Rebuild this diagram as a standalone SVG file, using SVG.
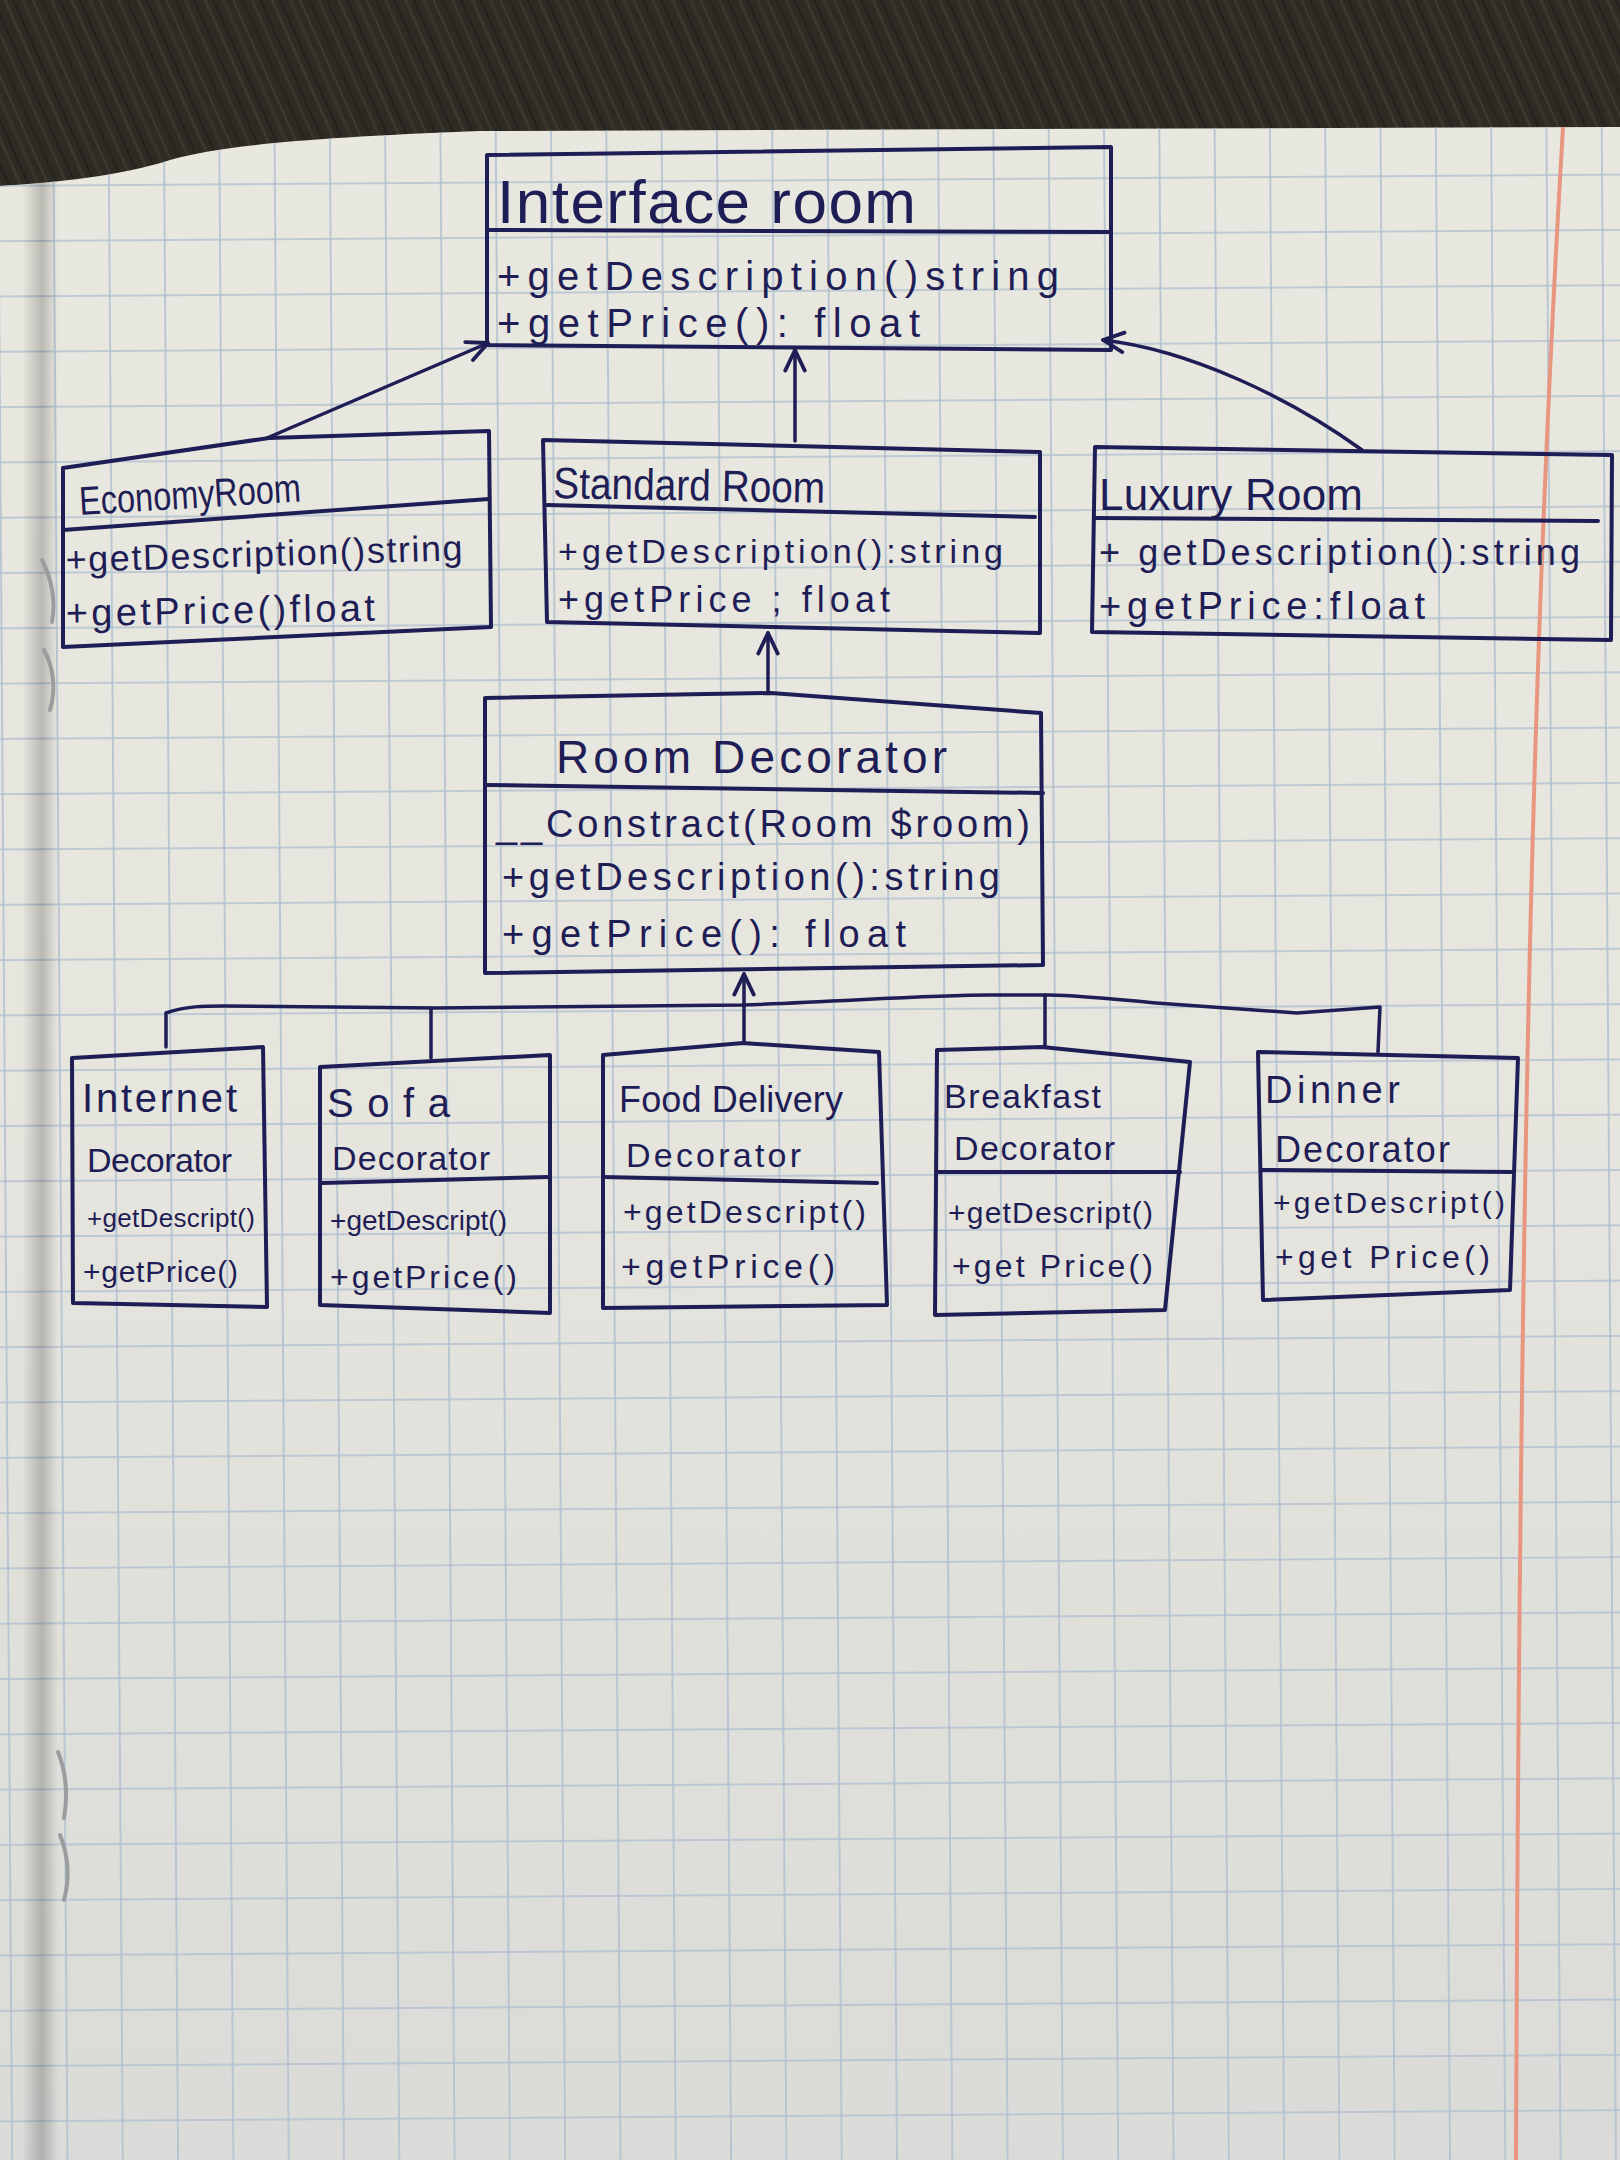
<svg xmlns="http://www.w3.org/2000/svg" width="1620" height="2160" viewBox="0 0 1620 2160">
  <defs>
    <style>
      .ink { fill: none; stroke: #1f1d55; stroke-width: 4; stroke-linejoin: round; stroke-linecap: round; }
      .wire { fill: none; stroke: #1f1d55; stroke-width: 3.5; stroke-linejoin: round; stroke-linecap: round; }
      .hand { fill: #1f1d55; font-family: "Liberation Sans", Arial, sans-serif; }
    </style>
    <!-- wood desk texture -->
    <pattern id="wood" patternUnits="userSpaceOnUse" width="61" height="600" patternTransform="rotate(-24)">
      <rect width="61" height="600" fill="#2e2a24"/>
      <rect x="3" width="3" height="600" fill="#48423a" opacity="0.55"/>
      <rect x="11" width="2" height="600" fill="#1e1b17" opacity="0.6"/>
      <rect x="19" width="4" height="600" fill="#3d382f" opacity="0.6"/>
      <rect x="29" width="2" height="600" fill="#524b40" opacity="0.45"/>
      <rect x="37" width="3" height="600" fill="#221f1a" opacity="0.55"/>
      <rect x="46" width="2.5" height="600" fill="#443e35" opacity="0.6"/>
      <rect x="54" width="2" height="600" fill="#1c1a16" opacity="0.5"/>
    </pattern>
    <!-- squared notebook ruling -->
    <pattern id="grid" patternUnits="userSpaceOnUse" x="162" y="19" width="55.3" height="55.3" patternTransform="rotate(-0.4)">
      <path d="M1,0 V55.3 M0,1 H55.3" fill="none" stroke="#afc0d0" stroke-width="1.6"/>
    </pattern>
    <linearGradient id="paperShade" x1="0" y1="0" x2="0" y2="1">
      <stop offset="0" stop-color="#e9e8e0"/>
      <stop offset="0.5" stop-color="#e6e5de"/>
      <stop offset="1" stop-color="#dadbd8"/>
    </linearGradient>
    <linearGradient id="fold" x1="0" y1="0" x2="1" y2="0">
      <stop offset="0" stop-color="#000" stop-opacity="0"/>
      <stop offset="0.55" stop-color="#000" stop-opacity="0.2"/>
      <stop offset="1" stop-color="#000" stop-opacity="0"/>
    </linearGradient>
    <clipPath id="paperClip">
      <path d="M0,186 C60,182 120,176 170,160 C220,146 300,138 480,131 L1620,127 L1620,2160 L0,2160 Z"/>
    </clipPath>
    <marker id="open" viewBox="0 0 24 24" refX="22" refY="12" markerWidth="26" markerHeight="26" markerUnits="userSpaceOnUse" orient="auto">
      <path d="M3,3 L22,12 L3,21" fill="none" stroke="#1f1d55" stroke-width="3.5" stroke-linecap="round" stroke-linejoin="round"/>
    </marker>
  </defs>

  <!-- desk and notebook page -->
  <rect width="1620" height="2160" fill="url(#wood)"/>
  <g clip-path="url(#paperClip)">
    <rect width="1620" height="2160" fill="url(#paperShade)"/>
    <rect width="1620" height="2160" fill="url(#grid)"/>
    <rect x="22" y="120" width="36" height="2040" fill="url(#fold)"/>
    <path d="M1563,127 C1535,600 1520,1100 1516,2160" fill="none" stroke="#e8967f" stroke-width="4"/>
  </g>

  <!-- binding staples -->
  <g fill="none" stroke="#9a9c9e" stroke-width="4" stroke-linecap="round">
    <path d="M42,560 C52,580 56,600 52,622"/>
    <path d="M44,650 C54,668 56,690 50,710"/>
    <path d="M58,1752 C66,1772 68,1795 64,1818"/>
    <path d="M60,1835 C68,1855 70,1878 64,1900"/>
  </g>

  <!-- connectors -->
  <g id="connectors">
    <path class="wire" d="M267,438 L488,343" marker-end="url(#open)"/>
    <path class="wire" d="M795,441 L795,350" marker-end="url(#open)"/>
    <path class="wire" d="M1362,450 C1290,398 1190,350 1103,340" marker-end="url(#open)"/>
    <path class="wire" d="M768,693 L768,633" marker-end="url(#open)"/>
    <path class="wire" d="M744,1006 L744,974" marker-end="url(#open)"/>
    <path class="wire" d="M166,1047 L166,1013 C185,1006 205,1006 225,1006 L435,1008 L742,1005 C850,1001 930,995 990,995 L1049,995 C1090,996 1120,1000 1156,1003 L1297,1013 L1380,1007 L1378,1052"/>
    <path class="wire" d="M431,1008 L431,1058"/>
    <path class="wire" d="M744,1006 L744,1043"/>
    <path class="wire" d="M1045,995 L1045,1047"/>
  </g>

  <!-- interface -->
  <g id="interface-room">
    <path class="ink" d="M487,155 L1111,147 L1111,350 L487,345 Z"/>
    <path class="ink" d="M487,230 L1111,232"/>
    <text class="hand" x="497" y="223" font-size="62" textLength="419">Interface room</text>
    <text class="hand" x="497" y="290" font-size="40" textLength="562">+getDescription()string</text>
    <text class="hand" x="497" y="337" font-size="40" textLength="423">+getPrice(): float</text>
  </g>

  <!-- concrete rooms -->
  <g id="economy-room">
    <path class="ink" d="M63,468 L269,438 L489,431 L491,627 L63,647 Z"/>
    <path class="ink" d="M63,530 L489,499"/>
    <text class="hand" x="80" y="515" font-size="40" textLength="222" lengthAdjust="spacingAndGlyphs" transform="rotate(-3.5 80 515)">EconomyRoom</text>
    <text class="hand" x="66" y="572" font-size="36" textLength="397" transform="rotate(-1.7 66 572)">+getDescription()string</text>
    <text class="hand" x="66" y="626" font-size="38" textLength="309" transform="rotate(-1 66 626)">+getPrice()float</text>
  </g>

  <g id="standard-room">
    <path class="ink" d="M543,440 L1040,452 L1040,633 L547,622 Z"/>
    <path class="ink" d="M547,505 L1035,517"/>
    <text class="hand" x="553" y="498" font-size="44" textLength="272" lengthAdjust="spacingAndGlyphs" transform="rotate(1 553 498)">Standard Room</text>
    <text class="hand" x="558" y="563" font-size="34" textLength="445">+getDescription():string</text>
    <text class="hand" x="558" y="612" font-size="36" textLength="332">+getPrice ; float</text>
  </g>

  <g id="luxury-room">
    <path class="ink" d="M1095,447 L1612,455 L1611,640 L1092,632 Z"/>
    <path class="ink" d="M1095,518 L1598,521"/>
    <text class="hand" x="1099" y="510" font-size="44" textLength="264">Luxury Room</text>
    <text class="hand" x="1099" y="565" font-size="36" textLength="481">+ getDescription():string</text>
    <text class="hand" x="1099" y="619" font-size="38" textLength="326">+getPrice:float</text>
  </g>

  <!-- decorator base -->
  <g id="room-decorator">
    <path class="ink" d="M485,698 L771,693 L1041,713 L1043,965 L485,973 Z"/>
    <path class="ink" d="M485,785 L1043,793"/>
    <text class="hand" x="556" y="773" font-size="46" textLength="391">Room Decorator</text>
    <text class="hand" x="496" y="837" font-size="38" textLength="534">__Constract(Room $room)</text>
    <text class="hand" x="502" y="890" font-size="38" textLength="498">+getDescription():string</text>
    <text class="hand" x="502" y="947" font-size="38" textLength="404">+getPrice(): float</text>
  </g>

  <!-- concrete decorators -->
  <g id="internet-decorator">
    <path class="ink" d="M72,1058 L263,1047 L267,1307 L73,1303 Z"/>
    <text class="hand" x="82" y="1112" font-size="40" textLength="155">Internet</text>
    <text class="hand" x="87" y="1172" font-size="34" textLength="145">Decorator</text>
    <text class="hand" x="87" y="1227" font-size="26" textLength="168">+getDescript()</text>
    <text class="hand" x="83" y="1282" font-size="30" textLength="155">+getPrice()</text>
  </g>

  <g id="sofa-decorator">
    <path class="ink" d="M320,1067 L550,1055 L550,1313 L320,1305 Z"/>
    <path class="ink" d="M322,1183 L548,1177"/>
    <text class="hand" x="327" y="1117" font-size="40" textLength="123">Sofa</text>
    <text class="hand" x="332" y="1170" font-size="34" textLength="158">Decorator</text>
    <text class="hand" x="330" y="1230" font-size="28" textLength="177">+getDescript()</text>
    <text class="hand" x="330" y="1288" font-size="32" textLength="187">+getPrice()</text>
  </g>

  <g id="food-delivery-decorator">
    <path class="ink" d="M603,1055 L743,1043 L879,1052 L887,1305 L603,1308 Z"/>
    <path class="ink" d="M603,1177 L877,1183"/>
    <text class="hand" x="619" y="1112" font-size="36" textLength="224">Food Delivery</text>
    <text class="hand" x="626" y="1167" font-size="34" textLength="175">Decorator</text>
    <text class="hand" x="623" y="1223" font-size="32" textLength="243">+getDescript()</text>
    <text class="hand" x="621" y="1278" font-size="34" textLength="214">+getPrice()</text>
  </g>

  <g id="breakfast-decorator">
    <path class="ink" d="M937,1050 L1042,1047 L1190,1062 L1165,1310 L935,1315 Z"/>
    <path class="ink" d="M937,1172 L1180,1172"/>
    <text class="hand" x="944" y="1108" font-size="34" textLength="157">Breakfast</text>
    <text class="hand" x="954" y="1160" font-size="34" textLength="161">Decorator</text>
    <text class="hand" x="948" y="1223" font-size="30" textLength="205">+getDescript()</text>
    <text class="hand" x="952" y="1277" font-size="32" textLength="201">+get Price()</text>
  </g>

  <g id="dinner-decorator">
    <path class="ink" d="M1258,1052 L1518,1058 L1510,1290 L1263,1300 Z"/>
    <path class="ink" d="M1262,1170 L1512,1172"/>
    <text class="hand" x="1265" y="1103" font-size="38" textLength="135">Dinner</text>
    <text class="hand" x="1275" y="1162" font-size="36" textLength="175">Decorator</text>
    <text class="hand" x="1273" y="1213" font-size="30" textLength="232">+getDescript()</text>
    <text class="hand" x="1275" y="1268" font-size="32" textLength="215">+get Price()</text>
  </g>
</svg>
